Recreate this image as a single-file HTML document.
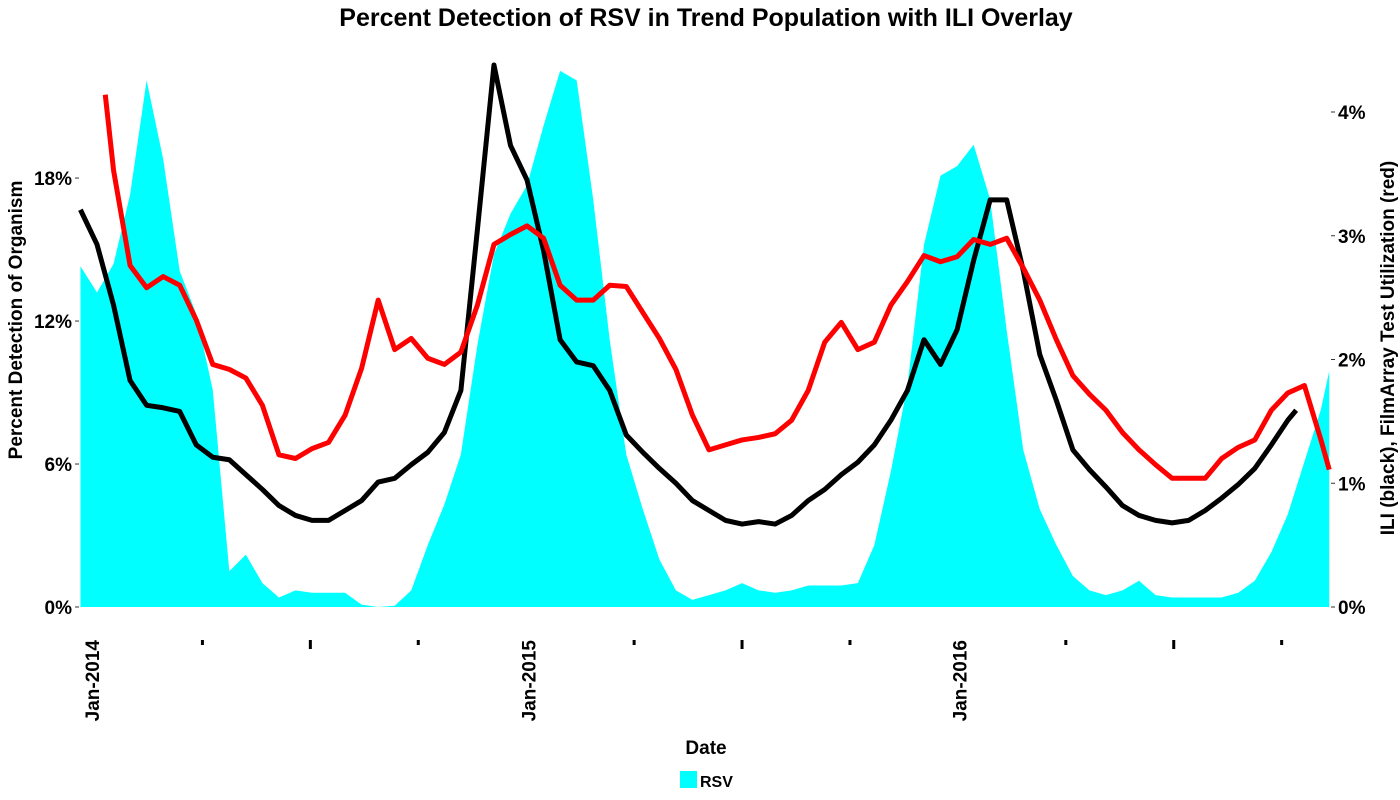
<!DOCTYPE html>
<html><head><meta charset="utf-8"><style>
body{margin:0;background:#fff;}
svg{display:block;font-family:"Liberation Sans",Arial,sans-serif;font-weight:bold;}
</style></head><body>
<svg id="chart" width="1400" height="800"></svg>
<script>
const rsvWeeks=[-2,0,2,4,6,8,10,12,14,16,18,20,22,24,26,28,30,32,34,36,38,40,42,44,46,48,50,52,54,56,58,60,62,64,66,68,70,72,74,76,78,80,82,84,86,88,90,92,94,96,98,100,102,104,106,108,110,112,114,116,118,120,122,124,126,128,130,132,134,136,138,140,142,144,146,148,149];
const rsvPct=[14.3,13.2,14.4,17.3,22.1,18.8,14.1,12.3,9.1,1.5,2.2,1.0,0.4,0.7,0.6,0.6,0.6,0.1,0,0.05,0.7,2.6,4.3,6.4,11.0,14.8,16.5,17.7,20.2,22.5,22.1,17.1,11.2,6.4,4.1,2.0,0.7,0.3,0.5,0.7,1.0,0.7,0.6,0.7,0.9,0.9,0.9,1.0,2.6,5.7,9.3,15.2,18.1,18.5,19.4,17.1,11.6,6.6,4.1,2.6,1.3,0.7,0.5,0.7,1.1,0.5,0.4,0.4,0.4,0.4,0.6,1.1,2.3,3.9,6.1,8.3,9.9];
const iliWeeks=[-2,0,2,4,6,8,10,12,14,16,18,20,22,24,26,28,30,32,34,36,38,40,42,44,46,48,50,52,54,56,58,60,62,64,66,68,70,72,74,76,78,80,82,84,86,88,90,92,94,96,98,100,102,104,106,108,110,112,114,116,118,120,122,124,126,128,130,132,134,136,138,140,142,144,145];
const iliPct=[3.21,2.93,2.44,1.83,1.63,1.61,1.58,1.31,1.21,1.19,1.07,0.95,0.82,0.74,0.70,0.70,0.78,0.86,1.01,1.04,1.15,1.25,1.41,1.75,3.05,4.38,3.73,3.45,2.88,2.16,1.98,1.95,1.75,1.39,1.25,1.12,1.00,0.86,0.78,0.70,0.67,0.69,0.67,0.74,0.86,0.95,1.07,1.17,1.31,1.51,1.75,2.16,1.96,2.24,2.80,3.29,3.29,2.72,2.04,1.67,1.27,1.11,0.97,0.82,0.74,0.70,0.68,0.70,0.78,0.88,0.99,1.12,1.31,1.51,1.59];
const utilWeeks=[1,2,4,6,8,10,12,14,16,18,20,22,24,26,28,30,32,34,36,38,40,42,44,46,48,50,52,54,56,58,60,62,64,66,68,70,72,74,76,78,80,82,84,86,88,90,92,94,96,98,100,102,104,106,108,110,112,114,116,118,120,122,124,126,128,130,132,134,136,138,140,142,144,146,148,149];
const utilPct=[4.14,3.53,2.76,2.58,2.67,2.60,2.32,1.96,1.92,1.85,1.63,1.23,1.20,1.28,1.33,1.55,1.93,2.48,2.08,2.17,2.01,1.96,2.06,2.44,2.93,3.01,3.08,2.98,2.60,2.48,2.48,2.60,2.59,2.38,2.17,1.92,1.55,1.27,1.31,1.35,1.37,1.40,1.51,1.75,2.14,2.30,2.08,2.14,2.44,2.63,2.84,2.79,2.83,2.97,2.93,2.98,2.74,2.48,2.16,1.87,1.72,1.59,1.41,1.27,1.15,1.04,1.04,1.04,1.20,1.29,1.35,1.59,1.73,1.79,1.35,1.11];
const leftTicks=[0,6,12,18];
const rightTicks=[0,1,2,3,4];
const yearLabels=["Jan-2014","Jan-2015","Jan-2016"];

const svg=document.getElementById('chart');
const NS='http://www.w3.org/2000/svg';
const X=w=>97+w*8.27;
const YL=v=>607-v*23.83;
const YR=v=>607-v*123.75;
function mk(tag,attrs,parent){const e=document.createElementNS(NS,tag);for(const k in attrs)e.setAttribute(k,attrs[k]);(parent||svg).appendChild(e);return e;}

let d='M'+X(rsvWeeks[0])+','+YL(0);
rsvWeeks.forEach((w,i)=>{d+=' L'+X(w)+','+YL(rsvPct[i]);});
d+=' L'+X(rsvWeeks[rsvWeeks.length-1])+','+YL(0)+' Z';
const area=mk('path',{d:d,fill:'#00ffff'});



function line(ws,vs,color,name){
  const p=ws.map((w,i)=>(i?'L':'M')+X(w)+','+YR(vs[i])).join(' ');
  const e=mk('path',{d:p,fill:'none',stroke:color,'stroke-width':5,'stroke-linejoin':'round'});
  
  
}
line(iliWeeks,iliPct,'#000','ili-line');
line(utilWeeks,utilPct,'#ff0000','filmarray-utilization-line');

leftTicks.forEach(v=>{
  const t=mk('text',{x:72,y:YL(v)+7,'text-anchor':'end','font-size':19});t.textContent=v+'%';
  
  
  mk('line',{x1:75,x2:79,y1:YL(v),y2:YL(v),stroke:'#333','stroke-width':1});
});
rightTicks.forEach(v=>{
  mk('line',{x1:1331,x2:1335,y1:YR(v),y2:YR(v),stroke:'#333','stroke-width':1});
  const t=mk('text',{x:1338,y:YR(v)+7,'font-size':19});t.textContent=v+'%';
  
  
});
for(let k=0;k<12;k++){
  const w=k*13.05;const x=X(w)-3;
  if(k%4===0){
    const lab=yearLabels[k/4];
    const off=k===0?5:(k===4?10:9);
    const t=mk('text',{x:0,y:0,'text-anchor':'end','font-size':19,transform:'translate('+(x+off)+',640) rotate(-90)'});
    t.textContent=lab;
    
    
  } else {
    const r=mk('rect',{x:x-1,y:640,width:3,height:k%4===2?9:5,fill:'#000'});
    
    
  }
}
function txt(s,attrs,name){const t=mk('text',attrs);t.textContent=s;}
txt('Percent Detection of RSV in Trend Population with ILI Overlay',{x:706,y:26,'text-anchor':'middle','font-size':25},'chart-title');
txt('Percent Detection of Organism',{x:0,y:0,'text-anchor':'middle','font-size':19,transform:'translate(22,320) rotate(-90)'},'left-y-axis-title');
txt('ILI (black), FilmArray Test Utilization (red)',{x:0,y:0,'text-anchor':'middle','font-size':19,transform:'translate(1394,348) rotate(-90)'},'right-y-axis-title');
txt('Date',{x:706,y:754,'text-anchor':'middle','font-size':19},'x-axis-title');
const sw=mk('rect',{x:680,y:771,width:17,height:17,fill:'#00ffff'});


txt('RSV',{x:700,y:787,'font-size':16},'legend-rsv-label');
</script>
</body></html>
